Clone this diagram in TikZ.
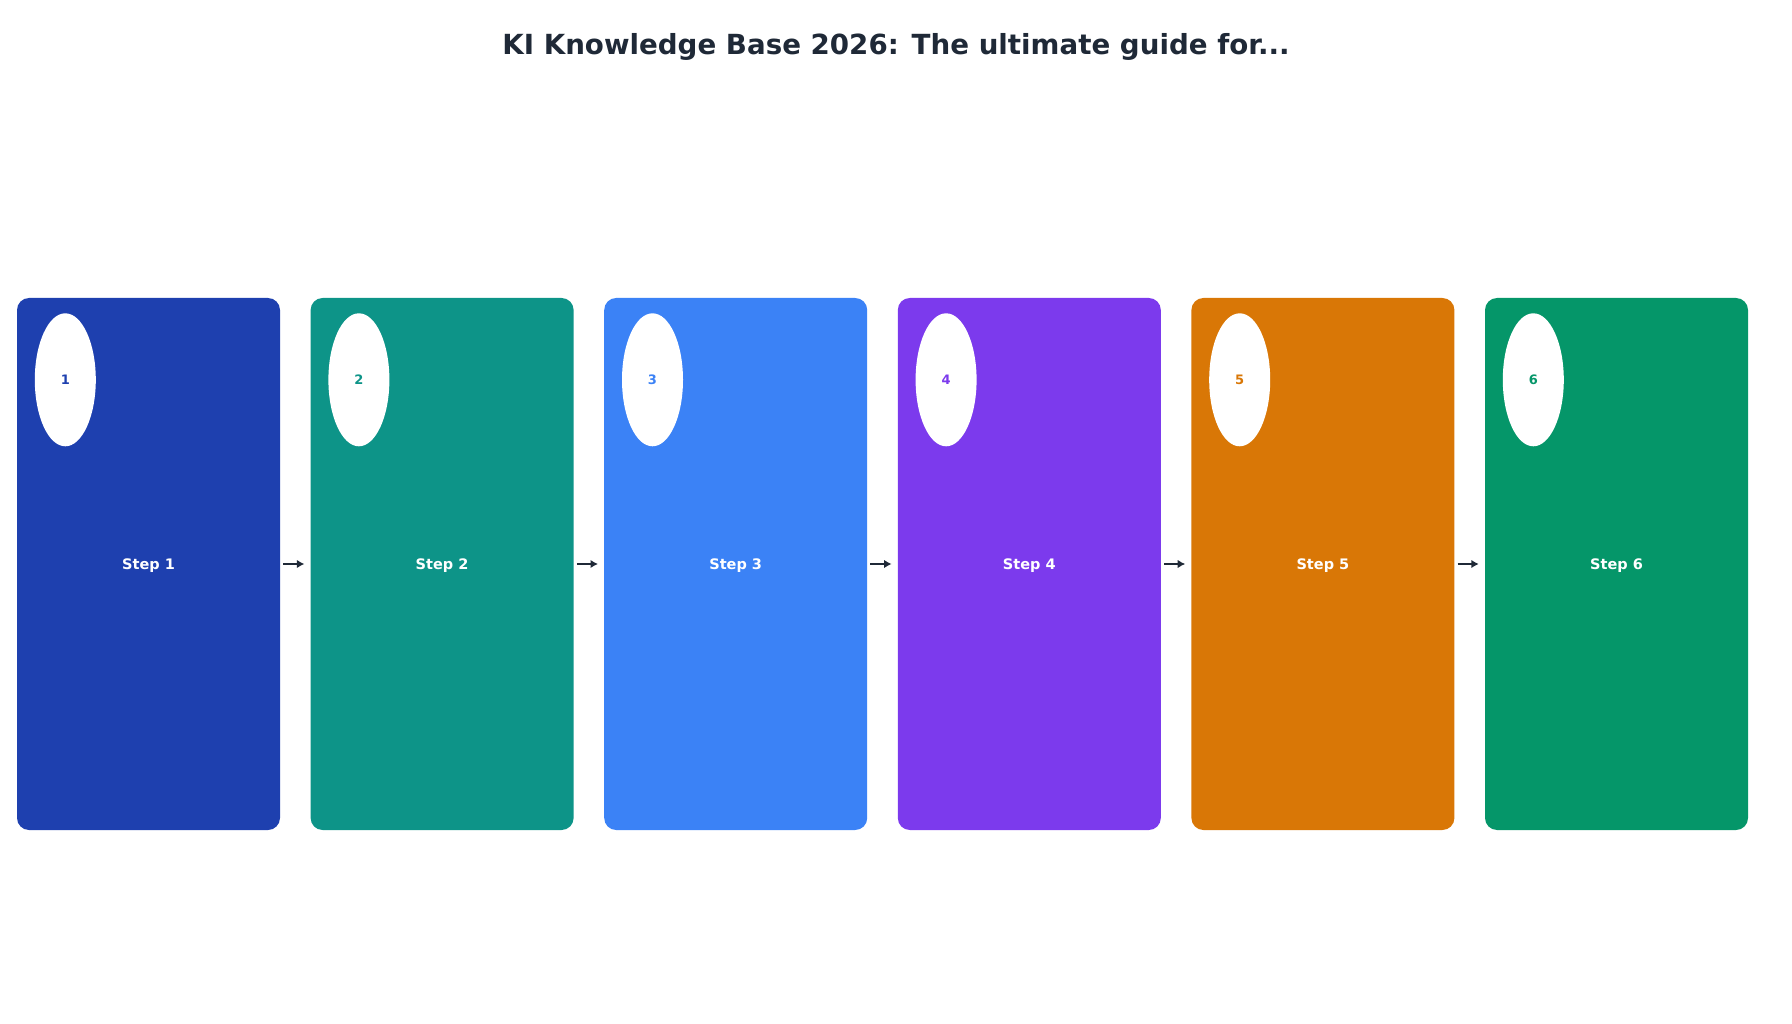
\documentclass[tikz,border=0pt]{standalone}
\usepackage{fontspec}
\setmainfont{DejaVu Sans}
\usepackage{xcolor}
\usetikzlibrary{calc,arrows.meta,shapes.geometric}
\definecolor{ink}{HTML}{1F2937}
\definecolor{navy}{HTML}{1E40AF}
\definecolor{teal}{HTML}{0D9488}
\definecolor{sky}{HTML}{3B82F6}
\definecolor{violet}{HTML}{7C3AED}
\definecolor{amber}{HTML}{D97706}
\definecolor{emerald}{HTML}{059669}
\tikzset{
  stepbox/.style={rectangle, rounded corners=12pt, minimum width=263pt, minimum height=532pt,
    inner sep=0pt, text=white, font=\fontsize{14.5}{17}\selectfont\bfseries},
  numoval/.style={ellipse, fill=white, minimum width=61pt, minimum height=133pt,
    inner sep=0pt, font=\fontsize{13}{15}\selectfont\bfseries},
  flow/.style={draw=ink, line width=2.4pt, -{Latex[length=7.5pt,width=8.5pt]},
    shorten <=3pt, shorten >=6pt},
  heading/.style={text=ink, font=\fontsize{27.7}{33}\selectfont\bfseries}
}

\begin{document}
\begin{tikzpicture}[x=1pt,y=-1pt]
  \useasboundingbox (0,0) rectangle (1792,1024);

  \node[heading] (title) at (896,46.5) {KI Knowledge Base 2026: The ultimate guide for...};

  % six steps
  \foreach \i/\c in {1/navy,2/teal,3/sky,4/violet,5/amber,6/emerald}{
    \node[stepbox, fill=\c, text depth=0pt] (s\i) at ({148.5+(\i-1)*293.6},564) {Step \i};
    \node[numoval, text=\c] (n\i) at ($(s\i.north west)+(48.5,82)$) {\i};
  }

  \foreach \i/\j in {1/2,2/3,3/4,4/5,5/6}
    \draw[flow] (s\i.east) -- (s\j.west);
\end{tikzpicture}
\end{document}
